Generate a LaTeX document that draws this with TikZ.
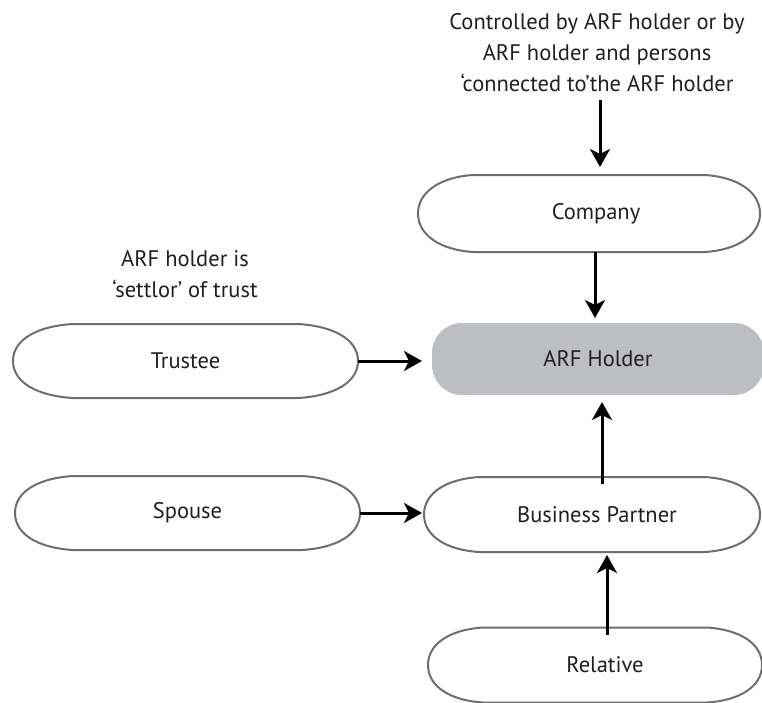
\documentclass[tikz,border=0pt]{standalone}
\usepackage{fontspec}
\setmainfont{PT Sans}
\usetikzlibrary{arrows.meta}
\definecolor{boxgray}{HTML}{BDBEC1}
\definecolor{edgegray}{HTML}{6D6E71}
\definecolor{ink}{HTML}{231F20}
\tikzset{
  leafnode/.style={minimum width=#1, minimum height=75pt, inner sep=0pt, outer sep=0pt, text=ink, font=\fontsize{22.5}{26}\selectfont},
  leafline/.style={draw=edgegray, line width=2pt, fill=white},
  holder/.style={minimum width=332pt, minimum height=72pt, inner sep=0pt, outer sep=0pt, fill=boxgray, rounded corners=30pt, text=ink, font=\fontsize{22.5}{26}\selectfont},
  note/.style={align=center, text=ink, font=\fontsize{22.5}{31}\selectfont},
  arr/.style={draw=black, line width=3pt, -{Stealth[length=18pt, width=20pt, inset=5pt]}}
}
\newcommand\leafshape[2]{% node name, end depth
  \path[leafline] ([xshift=#2]#1.north west) -- ([xshift=-#2]#1.north east)
    .. controls ([xshift=-0.42*#2,yshift=-2pt]#1.north east) and ([yshift=22pt]#1.east) .. (#1.east)
    .. controls ([yshift=-22pt]#1.east) and ([xshift=-0.42*#2,yshift=2pt]#1.south east) .. ([xshift=-#2]#1.south east)
    -- ([xshift=#2]#1.south west)
    .. controls ([xshift=0.42*#2,yshift=2pt]#1.south west) and ([yshift=-22pt]#1.west) .. (#1.west)
    .. controls ([yshift=22pt]#1.west) and ([xshift=0.42*#2,yshift=-2pt]#1.north west) .. cycle;}
\begin{document}
\begin{tikzpicture}[x=1pt,y=-1pt]
\useasboundingbox (0,0) rectangle (762,702);
% leaf-shaped boxes (shape first, then text node on top)
\node[leafnode=342pt, minimum height=77pt] (company) at (589,213.5) {};
\node[leafnode=345pt, minimum height=74pt] (trustee) at (185.5,361) {};
\node[leafnode=345pt, minimum height=74pt] (spouse) at (187.5,513) {};
\node[leafnode=336pt, minimum height=75pt] (bp) at (592,514.5) {};
\node[leafnode=334pt, minimum height=75pt] (relative) at (595,665) {};
\leafshape{company}{55pt}
\leafshape{trustee}{60pt}
\leafshape{spouse}{58pt}
\leafshape{bp}{55pt}
\leafshape{relative}{55pt}
\node[leafnode=342pt, minimum height=77pt] at (company) {\hspace*{14pt}Company};
\node[leafnode=345pt, minimum height=74pt] at (trustee) {Trustee};
\node[leafnode=345pt, minimum height=74pt] at (spouse) {Spouse};
\node[leafnode=336pt, minimum height=75pt] at (bp) {\hspace*{10pt}Business Partner};
\node[leafnode=334pt, minimum height=75pt] at (relative) {\hspace*{20pt}Relative};
\node[holder] (arf) at (598,359) {ARF Holder};
% notes
\node[note] (ctrl) at (597,53) {Controlled by ARF holder or by\\ARF holder and persons\\‘connected to’the ARF holder};
\node[note] (settlor) at (185,274) {ARF holder is\\‘settlor’ of trust};
\coordinate (ctrlend) at (600,100);
% connectors
\draw[arr] (ctrlend) -- ([xshift=11pt,yshift=8pt]company.north);
\draw[arr] ([xshift=6pt]company.south) -- ([xshift=-3pt,yshift=5pt]arf.north);
\draw[arr] (trustee.east) -- ([xshift=-10pt]trustee.east -| arf.west);
\draw[arr] ([xshift=10pt,yshift=-7pt]bp.north) -- ([xshift=4pt,yshift=-7pt]arf.south);
\draw[arr] (spouse.east) -- ([xshift=-2pt]spouse.east -| bp.west);
\draw[arr] ([xshift=12pt,yshift=-7pt]relative.north) -- ([xshift=15pt,yshift=-3pt]bp.south);
\end{tikzpicture}
\end{document}
